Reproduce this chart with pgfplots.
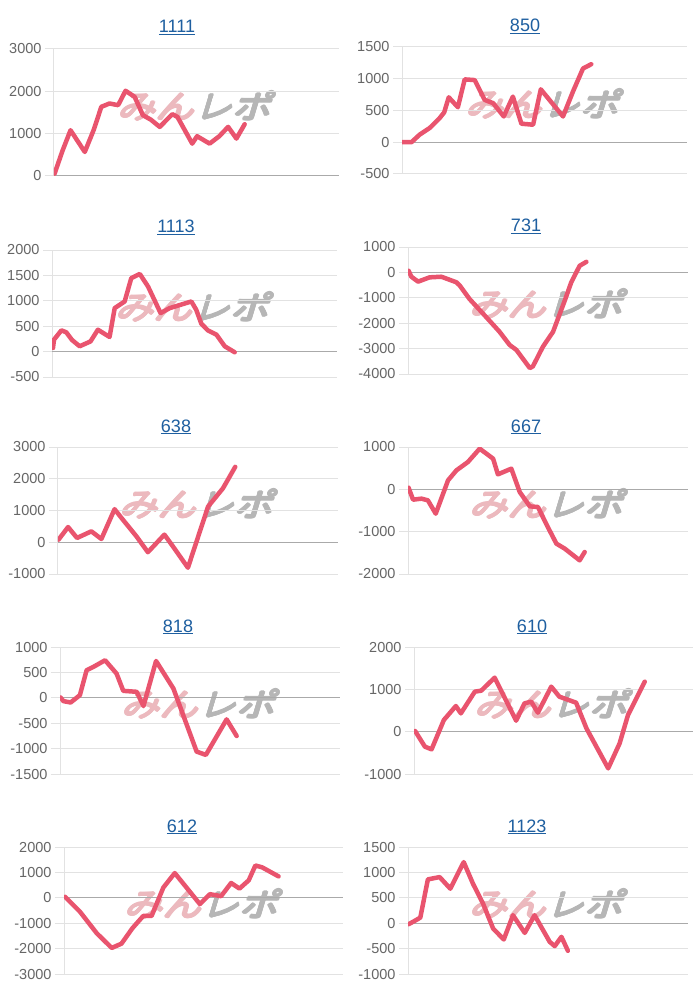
\documentclass[border=0pt]{standalone}
\usepackage{pgfplots}
\pgfplotsset{compat=1.18}
\usepackage{fontspec}
\setmainfont{Liberation Sans}
\newfontfamily\cjk[FakeSlant=0.25]{Noto Sans CJK JP}
\definecolor{linec}{RGB}{233,84,110}
\definecolor{tickc}{RGB}{102,102,102}
\definecolor{gridc}{RGB}{226,226,226}
\definecolor{zeroc}{RGB}{170,170,170}
\definecolor{titc}{RGB}{30,95,160}
\definecolor{wmp}{RGB}{236,185,190}
\definecolor{wmg}{RGB}{182,182,182}
\pgfplotsset{panel/.style={
  scale only axis, height=127pt, anchor=south west,
  xmin=0, xmax=100, xtick=\empty,
  axis x line=none, axis y line*=left,
  y axis line style={draw=gridc, line width=1pt},
  ymajorgrids, major grid style={draw=gridc, line width=1pt},
  major tick length=9pt, tick align=outside,
  ytick style={draw=gridc, line width=1pt},
  yticklabel style={font=\fontsize{14.5}{14.5}\selectfont, text=tickc},
  /pgf/number format/assume math mode=true,
  /pgf/number format/1000 sep={},
}}
\pgfplotsset{pline/.style={linec, line width=4.5pt, line join=round, line cap=round}}
\newcommand\wmtext{\scalebox{1.2}[1]{\cjk\fontsize{32}{32}\selectfont\textcolor{wmp}{みん}\textcolor{wmg}{レポ}}}
\newcommand\wm[2]{%
  \foreach \dx/\dy in {-0.8/0,0.8/0,0/-0.8,0/0.8,-0.6/-0.6,0.6/0.6,-0.6/0.6,0.6/-0.6,0/0}{%
    \node[inner sep=0pt] at (#1pt+\dx pt,-#2pt+\dy pt) {\wmtext};}}
\newcommand\ttl[3]{\node[anchor=base, text=titc, inner sep=0pt] at (#1pt,-#2pt) {\fontsize{18}{18}\selectfont\underline{#3}};}
\newcommand\zl{\draw[zeroc, line width=1pt] (axis cs:0,0) -- (axis cs:100,0);}
\begin{document}
\begin{tikzpicture}
\fill[white] (0,0) rectangle (700pt,-1000pt);
\useasboundingbox (0,0) rectangle (700pt,-1000pt);
% watermarks
\wm{194}{106}\wm{542}{104}\wm{192}{307}\wm{546}{304}\wm{196}{504}
\wm{546}{504}\wm{198}{704}\wm{551}{704}\wm{201}{904}\wm{546}{904}
% titles
\ttl{177}{33}{1111}\ttl{525}{32}{850}\ttl{176}{233}{1113}\ttl{526}{232}{731}
\ttl{176}{432}{638}\ttl{526}{432}{667}\ttl{178}{632}{818}\ttl{532}{632}{610}
\ttl{182}{832}{612}\ttl{527}{832}{1123}

% 1111
\begin{axis}[panel, at={(54pt,-176pt)}, width=285pt, ymin=0, ymax=3000, ytick={0,1000,2000,3000}]
\zl
\addplot[pline] coordinates {(0.2,55) (3,600) (5.8,1081) (10.8,568) (14,1100) (16.6,1634) (19.5,1713) (22.5,1673) (25.1,2013) (28.3,1870) (31.2,1436) (34,1330) (37.1,1160) (41.5,1460) (43.3,1397) (48.5,765) (50.2,940) (54.6,765) (58,940) (61.1,1160) (64,884) (66.9,1223)};
\end{axis}
% 850
\begin{axis}[panel, at={(402pt,-174pt)}, width=285pt, ymin=-500, ymax=1500, ytick={-500,0,500,1000,1500}]
\zl
\addplot[pline] coordinates {(0,0) (3.3,0) (6.2,120) (9.7,224) (13.2,380) (14.8,470) (16.4,708) (19.6,552) (22,990) (25.5,979) (29,667) (32,615) (35.7,406) (38.9,719) (41.9,292) (46,276) (48.7,833) (56.5,406) (60,800) (63.5,1161) (66.4,1229)};
\end{axis}
% 1113
\begin{axis}[panel, at={(52pt,-377pt)}, width=285pt, ymin=-500, ymax=2000, ytick={-500,0,500,1000,1500,2000}]
\zl
\addplot[pline] coordinates {(0.35,72) (0.7,235) (3.3,418) (5,380) (7,230) (9.7,105) (13.5,200) (16.1,431) (20.2,288) (22,856) (25.5,987) (27.8,1444) (30.8,1529) (33.7,1281) (38.1,758) (41.3,856) (48.9,987) (50.6,824) (52.4,549) (54.7,418) (57.7,333) (60.6,105) (64.1,-13)};
\end{axis}
% 731
\begin{axis}[panel, at={(408pt,-374pt)}, width=280pt, ymin=-4000, ymax=1000, ytick={-4000,-3000,-2000,-1000,0,1000}]
\zl
\addplot[pline] coordinates {(0.2,65) (1.2,-170) (3.6,-364) (7.7,-195) (11.9,-170) (17.3,-390) (18.5,-520) (22,-1050) (26.8,-1623) (32.7,-2338) (36.3,-2857) (38.7,-3052) (43.5,-3766) (44.6,-3700) (48.2,-2922) (51.8,-2338) (56,-1104) (58.3,-390) (61.3,260) (63.7,416)};
\end{axis}
% 638
\begin{axis}[panel, at={(58pt,-574pt)}, width=280pt, ymin=-1000, ymax=3000, ytick={-1000,0,1000,2000,3000}]
\zl
\addplot[pline] coordinates {(0.2,83) (3.6,479) (6.8,135) (11.9,344) (15.5,104) (20.2,1042) (23.2,708) (28,188) (32.1,-313) (38,240) (41,-125) (46.4,-802) (53.6,1125) (56.5,1438) (58.9,1698) (63.3,2375)};
\end{axis}
% 667
\begin{axis}[panel, at={(408pt,-574pt)}, width=280pt, ymin=-2000, ymax=1000, ytick={-2000,-1000,0,1000}]
\zl
\addplot[pline] coordinates {(0.2,39) (1.8,-244) (4.8,-220) (7.1,-260) (9.9,-575) (14.3,213) (17.3,449) (21.4,646) (25.6,961) (30.4,724) (32.1,354) (36.9,488) (39.9,-63) (43.5,-402) (46.4,-417) (50,-900) (53,-1283) (56,-1402) (61.3,-1677) (63.1,-1480)};
\end{axis}
% 818
\begin{axis}[panel, at={(60pt,-774pt)}, width=280pt, ymin=-1500, ymax=1000, ytick={-1500,-1000,-500,0,500,1000}]
\zl
\addplot[pline] coordinates {(0.2,7) (1.2,-65) (3.8,-92) (7.1,52) (9.5,542) (11.9,608) (16.1,739) (20.2,477) (22.6,137) (27.4,118) (29.8,-163) (34.3,725) (40.5,183) (48.8,-1059) (52.1,-1124) (59.5,-425) (63.1,-752)};
\end{axis}
% 610
\begin{axis}[panel, at={(414pt,-774pt)}, width=279pt, ymin=-1000, ymax=2000, ytick={-1000,0,1000,2000}]
\zl
\addplot[pline] coordinates {(0.4,16) (3.9,-354) (6.3,-417) (10.7,276) (15,606) (16.8,433) (21.8,945) (24.1,969) (28.9,1276) (36.6,260) (39.6,669) (42,709) (44.4,449) (49.2,1063) (52.1,827) (58.1,685) (61.8,79) (69.6,-866) (73.7,-276) (76.7,394) (82.7,1181)};
\end{axis}
% 612
\begin{axis}[panel, at={(64pt,-974pt)}, width=279pt, ymin=-3000, ymax=2000, ytick={-3000,-2000,-1000,0,1000,2000}]
\zl
\addplot[pline] coordinates {(0.4,39) (5.7,-545) (11.7,-1390) (17.1,-1974) (20.6,-1805) (24.5,-1200) (28.4,-714) (31.4,-714) (35.6,403) (39.7,974) (48.7,-247) (52.3,143) (56.3,65) (59.9,584) (62.9,364) (66.2,688) (68.6,1273) (71,1200) (76.9,844)};
\end{axis}
% 1123
\begin{axis}[panel, at={(408pt,-974pt)}, width=280pt, ymin=-1000, ymax=1500, ytick={-1000,-500,0,500,1000,1500}]
\zl
\addplot[pline] coordinates {(0.2,-20) (2.4,46) (4.4,111) (7.1,863) (11.3,908) (15.1,680) (19.9,1203) (23.2,778) (26.8,386) (30.4,-105) (34.2,-320) (37.5,157) (41.7,-190) (45.2,157) (50.6,-366) (52.4,-451) (54.8,-268) (57.1,-542)};
\end{axis}
\end{tikzpicture}
\end{document}
